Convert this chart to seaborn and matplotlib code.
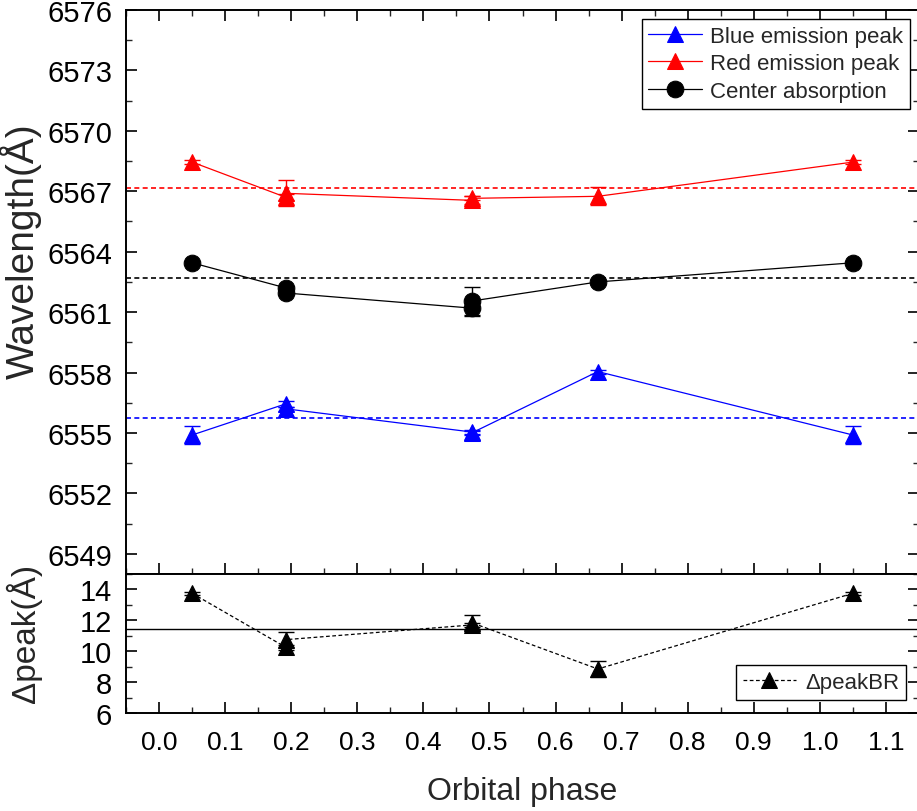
import numpy as np
import matplotlib
matplotlib.use('Agg')
import matplotlib.pyplot as plt
from matplotlib.ticker import MultipleLocator
import seaborn as sns

# values
phase = [0.05, 0.192, 0.192, 0.473, 0.473, 0.664, 1.05]

blue = [6554.9, 6556.45, 6556.2, 6555.05, 6555.0, 6558.05, 6554.9]
blue_err = [0.45, 0.15, 0.1, 0.1, 0.1, 0.1, 0.45]

red = [6568.45, 6566.7, 6566.9, 6566.55, 6566.65, 6566.75, 6568.45]
red_err = [0.1, 0.15, 0.65, 0.2, 0.1, 0.45, 0.1]

center = [6563.45, 6562.2, 6561.95, 6561.2, 6561.55, 6562.5, 6563.45]
center_err = [0.1, 0.1, 0.1, 0.4, 0.7, 0.15, 0.1]

delta = [13.75, 10.25, 10.75, 11.7, 11.85, 8.85, 13.75]
delta_err = [0.1, 0.15, 0.5, 0.1, 0.5, 0.5, 0.1]

blue_mean = 6555.75
red_mean = 6567.15
center_mean = 6562.7
delta_mean = 11.45

sns.set_theme(style='ticks')
plt.rcParams['font.family'] = ['Liberation Sans', 'DejaVu Sans']

fig = plt.figure(figsize=(9.17, 8.12), dpi=100)
W, H = 917, 812
left, right = 126, 919
ax1 = fig.add_axes([left / W, (H - 575) / H, (right - left) / W, (575 - 11) / H])
ax2 = fig.add_axes([left / W, (H - 714) / H, (right - left) / W, (714 - 575) / H], sharex=ax1)

series = [
    (blue, blue_err, 'blue', '^', 'Blue emission peak', blue_mean),
    (red, red_err, 'red', '^', 'Red emission peak', red_mean),
    (center, center_err, 'black', 'o', 'Center absorption', center_mean),
]
for vals, errs, col, mk, lab, mean in series:
    ax1.axhline(mean, color=col, lw=1.2, ls=(0, (3, 2)), zorder=1)
    ax1.errorbar(phase, vals, yerr=errs, fmt='none', ecolor=col, elinewidth=1.0,
                 capsize=6, capthick=1.0, zorder=2)
    sns.lineplot(x=phase, y=vals, ax=ax1, color=col, marker=mk, markersize=12,
                 markeredgecolor=col, lw=0.9, estimator=None, sort=False,
                 label=lab, zorder=3)

ax2.axhline(delta_mean, color='black', lw=1.0, zorder=1)
ax2.errorbar(phase, delta, yerr=delta_err, fmt='none', ecolor='black', elinewidth=1.0,
             capsize=6, capthick=1.0, zorder=2)
sns.lineplot(x=phase, y=delta, ax=ax2, color='black', marker='^', markersize=12,
             markeredgecolor='black', lw=0.9, ls=(0, (3, 2)), estimator=None, sort=False,
             label='ΔpeakBR', zorder=3)

ax1.set_xlim(-0.05, 1.15)
ax1.set_ylim(6548, 6576)
ax1.set_yticks(np.arange(6549, 6577, 3))
ax1.yaxis.set_minor_locator(MultipleLocator(1.5))
ax1.xaxis.set_major_locator(MultipleLocator(0.1))
ax1.xaxis.set_minor_locator(MultipleLocator(0.05))

ax2.set_ylim(6, 15)
ax2.set_yticks([6, 8, 10, 12, 14])
ax2.yaxis.set_minor_locator(MultipleLocator(1))

for ax in (ax1, ax2):
    for sp in ax.spines.values():
        sp.set_linewidth(1.4)
        sp.set_color('black')
    ax.tick_params(which='major', direction='in', length=8, width=1.2,
                   colors='black', left=True, right=True)
    ax.tick_params(which='minor', direction='in', length=4, width=1.0,
                   left=True, right=True)
    ax.tick_params(axis='y', which='major', labelsize=21, pad=10)

ax1.tick_params(axis='x', which='both', top=True, bottom=True, labelbottom=False)
ax2.tick_params(axis='x', which='both', top=False, bottom=True)
ax2.tick_params(axis='x', which='major', labelsize=19, pad=12)
ax2.set_xticks(np.round(np.arange(0, 1.11, 0.1), 1))
ax2.set_xticklabels([f'{t:.1f}' for t in np.arange(0, 1.11, 0.1)])

ax1.set_xlabel('')
ax1.set_ylabel('Wavelength(Å)', fontsize=28)
ax1.yaxis.set_label_coords(-0.106, 0.575)
ax2.set_ylabel('Δpeak(Å)', fontsize=24)
ax2.yaxis.set_label_coords(-0.106, 0.58)
ax2.set_xlabel('Orbital phase', fontsize=23, labelpad=16)

leg1 = ax1.legend(loc='upper right', fontsize=16, frameon=True, fancybox=False,
                  edgecolor='black', framealpha=1, handlelength=2.4,
                  labelspacing=0.3, borderaxespad=0.4, borderpad=0.3,
                  handletextpad=0.4)
leg1.get_frame().set_linewidth(1.0)
leg2 = ax2.legend(loc='lower right', fontsize=16, frameon=True, fancybox=False,
                  edgecolor='black', framealpha=1, handlelength=2.4,
                  borderaxespad=0.6, borderpad=0.3, handletextpad=0.4)
leg2.get_frame().set_linewidth(1.0)

fig.savefig('out.png', dpi=100)
